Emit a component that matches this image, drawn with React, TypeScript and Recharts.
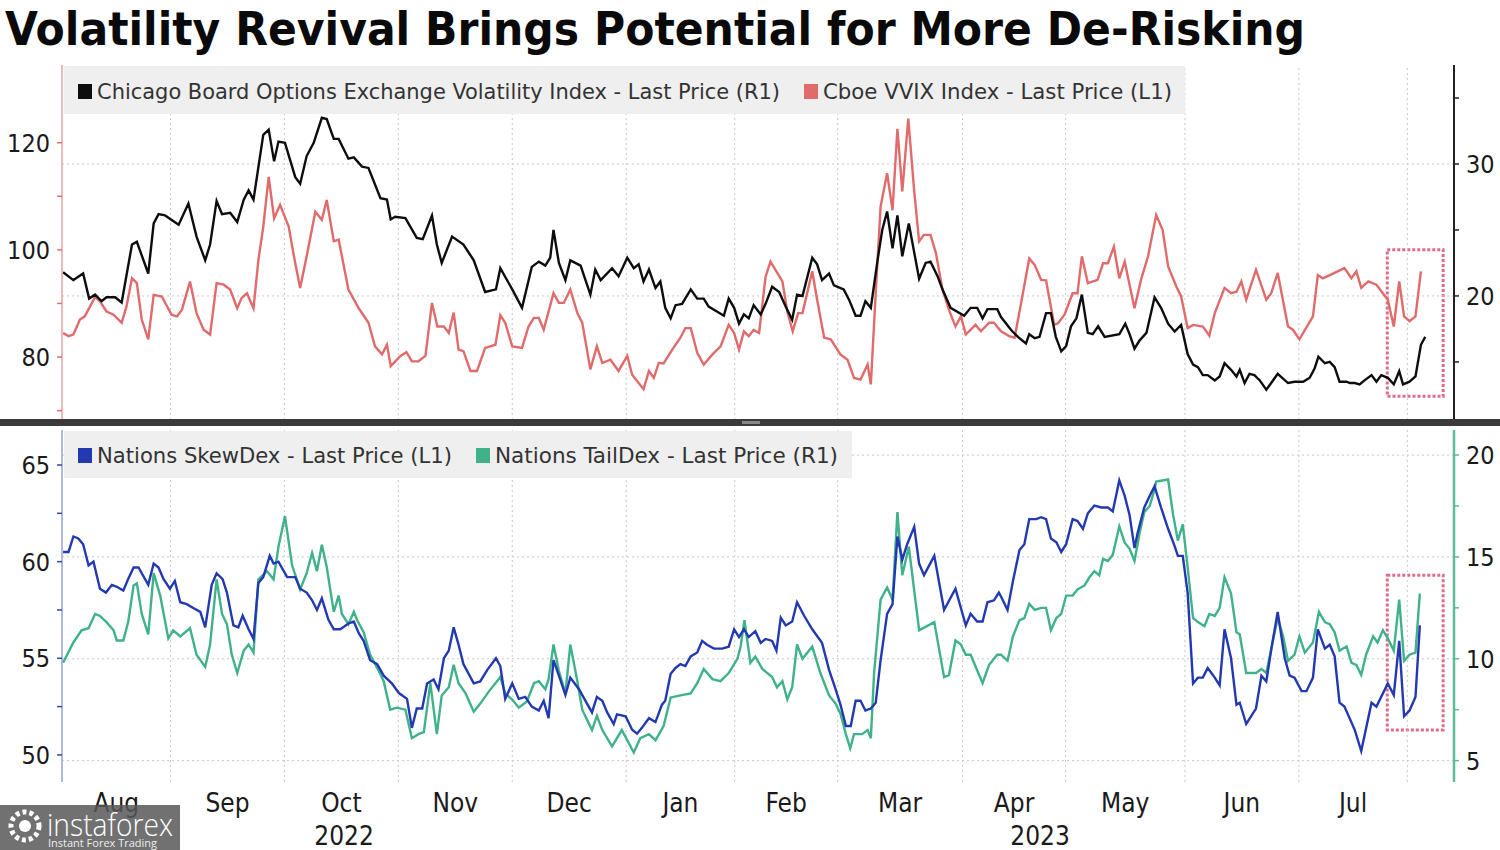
import React from 'react';
import { LineChart, Line, XAxis, YAxis, ReferenceArea, ReferenceLine } from 'recharts';

// x = trading-day index counted from early Aug 2022
const VIX: [number, number][] = [
  [0.2, 21.8], [2.1, 21.2], [3.9, 21.7], [5.0, 19.8], [6.1, 20.1], [7.3, 19.6], [8.2, 19.9], [9.8, 19.9],
  [11.0, 19.5], [12.9, 23.9], [13.8, 24.1], [15.9, 21.7], [16.9, 25.5], [17.8, 26.2], [19.0, 26.1], [21.5, 25.4],
  [23.3, 27.0], [24.8, 24.5], [26.4, 22.7], [27.3, 23.9], [28.5, 27.2], [29.5, 26.2], [31.0, 26.3], [32.3, 25.6],
  [33.5, 27.3], [34.4, 28.0], [35.3, 27.3], [37.1, 32.2], [38.1, 32.6], [39.1, 30.2], [39.9, 31.7], [41.1, 31.6],
  [43.0, 29.0], [43.9, 28.5], [45.1, 30.6], [46.4, 31.6], [47.9, 33.5], [48.8, 33.4], [50.1, 31.9], [51.0, 31.9],
  [52.8, 30.4], [53.8, 30.5], [55.3, 29.8], [56.5, 29.7], [58.7, 27.4], [59.9, 27.3], [60.6, 25.8], [61.4, 26.0],
  [63.3, 25.9], [65.4, 24.4], [66.5, 24.3], [68.2, 26.1], [69.1, 23.9], [70.0, 22.5], [71.9, 24.5], [74.0, 23.9],
  [75.9, 22.7], [78.0, 20.3], [80.0, 20.5], [80.8, 22.1], [83.0, 20.5], [84.8, 19.1], [86.6, 22.2], [87.9, 22.6],
  [89.1, 22.3], [90.0, 22.9], [90.6, 25.0], [91.6, 22.5], [92.8, 21.2], [93.7, 22.7], [95.6, 22.3], [97.4, 20.1],
  [98.3, 22.0], [99.3, 21.2], [101.4, 22.1], [102.6, 21.5], [104.2, 22.9], [105.4, 22.1], [106.3, 22.4], [107.2, 21.1],
  [108.2, 22.0], [109.4, 20.6], [110.3, 21.1], [111.2, 19.1], [112.2, 18.3], [113.1, 19.3], [114.3, 19.4], [115.9, 20.5],
  [117.1, 19.8], [118.3, 19.8], [119.2, 19.2], [120.8, 18.8], [122.0, 18.5], [122.9, 19.8], [123.9, 19.1], [124.8, 17.9],
  [125.7, 18.6], [126.6, 18.3], [127.5, 19.3], [128.8, 18.6], [129.7, 19.4], [130.9, 20.7], [132.2, 20.3], [133.4, 19.2],
  [134.6, 18.2], [135.5, 20.1], [136.5, 20.0], [138.3, 22.9], [139.2, 22.4], [140.1, 21.2], [141.4, 21.7], [142.3, 20.8],
  [144.1, 20.5], [145.1, 19.7], [146.3, 18.5], [147.2, 18.5], [148.1, 19.6], [149.1, 19.1], [150.3, 22.6], [151.2, 25.0],
  [152.1, 26.4], [153.1, 23.6], [154.0, 26.1], [154.9, 23.0], [156.1, 25.5], [158.0, 21.3], [159.2, 22.5], [160.1, 22.6],
  [161.4, 21.5], [162.3, 20.5], [163.8, 19.1], [166.3, 18.5], [167.5, 19.1], [168.7, 19.1], [169.7, 18.3], [170.6, 19.0],
  [172.4, 19.0], [173.1, 18.4], [175.0, 17.4], [176.2, 16.9], [177.7, 16.4], [178.3, 17.1], [179.3, 16.8], [180.2, 16.9],
  [181.4, 18.7], [182.3, 18.7], [183.2, 16.9], [184.2, 15.8], [185.1, 16.2], [186.0, 17.7], [187.0, 18.3], [188.0, 20.1],
  [189.1, 17.2], [190.0, 17.1], [191.0, 17.7], [192.2, 16.9], [194.9, 17.1], [196.0, 17.9], [196.8, 17.1], [197.7, 16.0],
  [198.6, 16.6], [199.9, 17.2], [201.4, 19.9], [202.6, 19.1], [203.9, 17.9], [205.1, 17.3], [206.3, 17.8], [207.5, 15.6],
  [208.5, 14.8], [209.4, 14.6], [210.3, 14.0], [211.2, 14.0], [212.5, 13.6], [213.4, 13.9], [214.3, 14.9], [215.5, 14.4],
  [216.5, 13.9], [217.1, 14.4], [218.0, 13.4], [218.9, 14.1], [219.8, 14.0], [220.8, 13.6], [222.0, 12.9], [222.9, 13.4],
  [224.1, 14.1], [226.0, 13.4], [227.2, 13.5], [228.8, 13.5], [230.0, 13.8], [230.9, 14.5], [231.6, 15.4], [232.8, 14.9],
  [233.7, 15.0], [234.6, 14.6], [235.5, 13.5], [236.8, 13.5], [237.4, 13.4], [238.3, 13.4], [239.2, 13.3], [240.1, 13.6],
  [241.4, 14.0], [242.3, 13.5], [243.2, 14.0], [244.4, 13.8], [245.5, 13.3], [246.5, 14.3], [247.2, 13.3], [248.4, 13.5],
  [249.5, 13.9], [250.5, 16.3], [251.3, 16.9],
];

const VVIX: [number, number][] = [
  [0.2, 84.5], [1.2, 83.9], [2.1, 84.2], [3.3, 87.0], [4.2, 87.6], [5.2, 89.5], [6.1, 91.2], [7.0, 90.4],
  [8.2, 88.5], [9.5, 87.9], [11.0, 86.4], [11.9, 89.5], [12.9, 94.7], [13.8, 93.8], [14.7, 87.0], [15.9, 83.3],
  [16.9, 91.6], [18.4, 91.3], [20.2, 87.9], [21.2, 87.6], [22.1, 88.8], [23.6, 94.1], [24.8, 88.2], [26.1, 85.1],
  [27.3, 84.2], [28.5, 93.8], [29.8, 93.5], [31.0, 92.6], [32.3, 89.1], [33.1, 91.0], [34.1, 91.9], [35.3, 89.1],
  [36.2, 98.1], [37.1, 104.3], [38.1, 113.6], [39.1, 105.9], [40.2, 108.4], [41.8, 104.3], [42.7, 99.1], [43.9, 92.9],
  [45.1, 98.8], [46.7, 107.1], [47.9, 105.6], [48.8, 109.3], [50.1, 101.6], [51.0, 101.9], [52.8, 92.6], [54.7, 89.1],
  [56.5, 86.4], [57.7, 82.0], [59.0, 80.5], [59.9, 82.3], [60.6, 78.3], [62.4, 80.2], [63.5, 80.9], [64.5, 79.2],
  [65.7, 79.2], [67.0, 80.2], [68.2, 90.1], [69.2, 85.7], [70.4, 85.7], [71.3, 84.5], [72.2, 88.3], [73.1, 81.4],
  [74.0, 81.1], [75.3, 77.4], [76.5, 77.4], [78.0, 81.7], [79.9, 82.3], [80.8, 87.8], [81.7, 86.4], [83.0, 82.0],
  [84.8, 81.7], [86.0, 85.7], [87.0, 87.3], [87.9, 87.3], [88.8, 85.1], [90.6, 91.9], [91.6, 90.1], [92.5, 90.1],
  [93.7, 92.6], [95.0, 88.2], [95.9, 86.4], [97.4, 77.7], [98.6, 82.0], [99.6, 78.9], [101.1, 79.5], [102.6, 77.4],
  [104.2, 80.2], [105.1, 76.7], [107.2, 74.0], [108.2, 77.4], [109.1, 76.1], [110.0, 78.9], [110.9, 78.8], [112.5, 81.4],
  [114.0, 83.6], [114.9, 85.4], [115.9, 85.4], [117.1, 80.8], [118.3, 78.6], [119.9, 80.5], [121.4, 82.0], [122.9, 86.0],
  [123.9, 84.5], [124.8, 81.4], [125.7, 84.8], [126.6, 83.9], [127.5, 85.1], [128.5, 84.5], [129.7, 95.0], [130.6, 97.8],
  [132.8, 94.1], [133.7, 88.5], [134.7, 84.8], [135.7, 88.2], [136.5, 88.2], [138.3, 96.0], [139.2, 90.7], [140.5, 83.6],
  [141.7, 83.3], [143.5, 80.5], [144.8, 79.5], [146.0, 76.1], [147.2, 75.8], [148.5, 78.6], [149.1, 74.9], [150.0, 91.9],
  [150.9, 108.1], [152.1, 114.3], [153.1, 107.4], [154.0, 122.6], [154.9, 110.9], [156.0, 124.5], [157.1, 110.9], [158.0, 101.6],
  [158.9, 102.8], [160.1, 102.8], [161.1, 99.4], [162.3, 92.6], [163.5, 88.8], [164.7, 85.7], [165.7, 87.6], [166.6, 84.2],
  [168.4, 86.0], [169.4, 84.8], [170.9, 86.4], [171.8, 86.4], [173.1, 84.8], [174.6, 83.9], [175.6, 83.6], [176.8, 90.1],
  [178.3, 98.4], [179.3, 97.2], [180.5, 94.4], [181.4, 94.3], [182.9, 86.0], [183.6, 86.3], [184.8, 87.9], [186.3, 91.9],
  [187.2, 91.9], [188.0, 98.8], [189.1, 93.8], [190.9, 94.4], [191.9, 97.5], [192.8, 97.5], [193.9, 100.6], [194.9, 94.7],
  [195.9, 97.8], [197.7, 89.1], [198.9, 94.4], [200.2, 98.8], [201.7, 106.5], [202.9, 103.7], [203.9, 96.9], [205.4, 93.2],
  [206.3, 91.3], [207.5, 85.4], [208.5, 86.0], [210.3, 85.7], [211.5, 84.0], [212.5, 88.2], [214.3, 92.9], [215.5, 91.9],
  [216.5, 92.2], [217.4, 94.1], [218.3, 90.7], [220.1, 96.3], [222.0, 90.7], [222.9, 91.9], [224.1, 95.7], [226.0, 85.7],
  [226.9, 85.1], [228.1, 83.3], [230.6, 87.6], [231.5, 95.3], [232.4, 94.7], [233.7, 95.3], [236.4, 96.6], [237.7, 94.7],
  [238.6, 96.0], [239.5, 92.9], [240.8, 94.1], [242.3, 93.5], [244.4, 90.7], [245.5, 85.7], [246.5, 94.1], [247.4, 87.6],
  [248.4, 86.7], [249.5, 87.6], [250.5, 96.0],
];

const SKEW: [number, number][] = [
  [0.2, 60.5], [1.2, 60.5], [2.1, 61.3], [3.0, 61.2], [3.9, 60.9], [4.9, 59.8], [5.8, 60.0], [7.0, 58.6],
  [8.1, 58.4], [9.2, 58.8], [10.1, 58.7], [11.3, 58.5], [12.2, 59.1], [13.2, 59.7], [14.1, 59.7], [15.3, 59.1],
  [15.9, 58.8], [16.9, 59.9], [17.8, 59.7], [18.7, 59.1], [19.9, 58.6], [20.8, 59.0], [21.8, 57.9], [23.0, 57.8],
  [24.2, 57.6], [25.5, 57.4], [26.4, 56.6], [27.6, 58.8], [28.5, 59.4], [29.6, 59.1], [30.4, 58.4], [31.6, 56.7],
  [32.5, 56.6], [33.3, 57.2], [34.4, 56.5], [35.3, 56.0], [36.2, 58.9], [37.1, 59.2], [38.3, 60.3], [39.0, 59.9],
  [39.9, 60.0], [41.5, 59.2], [43.0, 59.2], [43.9, 58.6], [45.1, 58.4], [46.1, 58.0], [47.0, 57.5], [47.9, 58.1],
  [49.1, 57.0], [50.1, 56.5], [51.3, 56.5], [52.8, 56.8], [53.8, 56.9], [54.7, 56.3], [55.6, 55.9], [56.8, 54.9],
  [58.1, 54.7], [59.3, 54.1], [60.8, 53.7], [62.1, 53.2], [63.6, 52.9], [64.5, 51.4], [65.4, 52.4], [66.4, 52.4],
  [67.3, 53.7], [68.5, 53.9], [69.4, 53.4], [70.4, 55.0], [71.3, 55.4], [72.2, 56.6], [73.1, 55.7], [74.0, 54.7],
  [75.9, 53.7], [77.1, 53.8], [78.4, 54.4], [80.0, 55.0], [80.8, 54.6], [81.7, 52.9], [83.0, 53.7], [84.2, 52.9],
  [85.4, 53.0], [86.6, 52.5], [87.9, 52.3], [88.8, 52.8], [89.7, 51.9], [90.6, 54.9], [91.6, 54.1], [92.8, 53.1],
  [93.7, 54.0], [95.3, 53.4], [96.5, 52.8], [97.7, 52.2], [98.6, 53.0], [99.6, 52.8], [100.5, 52.2], [101.7, 51.6],
  [102.3, 52.1], [103.9, 52.0], [105.1, 51.3], [106.0, 51.1], [106.9, 51.4], [108.2, 51.9], [109.4, 51.7], [110.6, 52.6],
  [111.2, 52.8], [112.2, 54.2], [113.1, 54.5], [114.0, 54.7], [114.9, 54.6], [115.9, 55.1], [117.1, 55.3], [118.0, 55.9],
  [118.9, 55.7], [120.2, 55.5], [121.7, 55.5], [122.9, 55.6], [123.9, 56.5], [124.8, 56.1], [125.7, 56.5], [126.6, 56.1],
  [127.8, 56.4], [128.8, 55.8], [129.7, 56.0], [130.9, 55.9], [131.7, 55.4], [132.5, 57.1], [133.4, 56.7], [134.6, 56.9],
  [135.5, 57.9], [136.8, 57.2], [138.3, 56.5], [140.1, 55.8], [141.4, 54.4], [142.6, 53.4], [143.5, 52.6], [144.5, 51.5],
  [145.4, 51.5], [146.3, 52.8], [147.2, 52.8], [148.1, 52.3], [149.1, 52.4], [150.0, 52.7], [150.9, 54.9], [152.1, 57.3],
  [153.1, 57.8], [154.0, 61.3], [154.9, 60.1], [155.8, 60.9], [157.1, 61.8], [158.0, 59.9], [158.9, 59.3], [160.8, 60.3],
  [162.6, 57.5], [164.7, 58.6], [166.6, 56.7], [167.5, 57.3], [168.7, 56.9], [169.7, 56.9], [170.6, 57.9], [171.8, 58.0],
  [172.7, 58.4], [173.1, 58.2], [174.3, 57.5], [175.3, 59.0], [176.5, 60.6], [177.4, 60.9], [178.3, 62.2], [179.6, 62.2],
  [180.5, 62.3], [181.4, 62.2], [182.3, 61.2], [183.3, 61.0], [184.2, 60.5], [185.1, 60.9], [186.3, 62.2], [187.2, 62.1],
  [188.2, 61.7], [189.1, 62.5], [190.3, 62.9], [191.6, 62.8], [192.8, 62.8], [193.7, 62.6], [194.9, 64.2], [195.9, 63.4],
  [196.8, 62.4], [197.7, 60.7], [198.3, 61.5], [199.5, 62.8], [200.5, 63.4], [201.4, 63.9], [202.6, 62.8], [203.9, 61.7],
  [205.1, 60.8], [205.7, 60.3], [206.6, 60.3], [207.5, 58.4], [208.5, 53.7], [209.4, 54.0], [210.3, 54.0], [211.2, 54.5],
  [212.5, 54.0], [213.4, 53.6], [214.3, 56.5], [215.5, 55.0], [216.5, 52.6], [217.1, 52.7], [218.3, 51.6], [220.1, 52.4],
  [221.1, 54.1], [222.0, 53.8], [223.0, 55.6], [224.1, 57.4], [225.4, 55.0], [226.3, 54.1], [227.2, 54.0], [228.5, 53.3],
  [229.4, 53.3], [230.6, 54.0], [231.5, 56.5], [232.8, 55.5], [233.7, 55.7], [234.6, 55.1], [235.5, 52.7], [236.4, 52.5],
  [238.3, 51.3], [239.5, 50.2], [241.4, 52.7], [242.3, 52.5], [244.4, 53.7], [245.5, 53.1], [246.5, 55.9], [247.4, 52.0],
  [248.4, 52.3], [249.5, 53.0], [250.3, 56.7],
];

const TAIL: [number, number][] = [
  [0.2, 9.8], [2.1, 10.8], [3.6, 11.4], [4.9, 11.5], [6.1, 12.2], [7.0, 12.1], [8.2, 11.8], [9.5, 11.4],
  [10.1, 10.9], [11.3, 10.9], [12.2, 11.8], [13.2, 13.6], [13.8, 13.7], [14.7, 12.2], [15.9, 11.2], [16.9, 14.2],
  [18.1, 13.1], [19.6, 11.0], [20.5, 11.4], [21.8, 11.1], [23.6, 11.5], [24.8, 10.2], [26.4, 9.6], [27.3, 10.7],
  [28.5, 13.9], [29.5, 12.2], [30.4, 11.7], [31.3, 10.2], [32.3, 9.3], [33.5, 10.4], [34.4, 10.7], [35.3, 10.3],
  [36.2, 13.9], [37.8, 14.3], [39.0, 13.9], [39.9, 15.5], [41.1, 17.0], [42.4, 14.6], [43.9, 13.4], [45.1, 14.2],
  [46.1, 15.2], [47.0, 14.3], [47.9, 15.6], [48.8, 14.5], [50.1, 12.3], [51.0, 13.1], [51.6, 12.2], [52.8, 11.7],
  [53.8, 12.3], [54.4, 11.9], [55.6, 11.3], [56.8, 10.2], [58.4, 9.4], [59.3, 8.9], [60.5, 7.5], [61.7, 7.6],
  [63.3, 7.5], [64.5, 6.1], [65.7, 6.3], [66.7, 6.4], [67.9, 8.8], [69.1, 6.3], [70.0, 8.2], [71.3, 8.6],
  [72.2, 9.7], [73.1, 8.8], [74.4, 8.3], [75.9, 7.4], [77.1, 7.8], [78.7, 8.4], [80.8, 9.1], [81.7, 8.3],
  [83.0, 8.0], [84.2, 7.6], [85.7, 7.9], [87.0, 8.8], [87.9, 8.9], [89.1, 8.5], [89.7, 9.0], [90.6, 10.7],
  [91.6, 9.4], [92.8, 8.3], [93.7, 10.7], [95.0, 8.9], [95.9, 7.5], [96.8, 7.0], [97.7, 6.5], [98.6, 7.2],
  [99.6, 6.5], [101.4, 5.7], [103.2, 6.5], [105.4, 5.4], [106.6, 6.1], [108.2, 6.3], [109.4, 6.0], [110.9, 6.7],
  [112.2, 8.1], [114.0, 8.2], [115.9, 8.3], [117.1, 8.8], [118.3, 9.5], [119.9, 9.0], [121.4, 8.9], [122.9, 9.3],
  [124.5, 10.0], [125.1, 10.6], [125.8, 11.9], [126.9, 9.8], [127.8, 10.1], [129.1, 9.5], [130.9, 9.1], [131.8, 8.6],
  [132.8, 8.9], [133.7, 8.0], [134.6, 8.6], [135.5, 10.7], [136.5, 10.0], [138.3, 10.6], [139.8, 9.3], [141.4, 8.2],
  [142.6, 7.8], [143.5, 7.3], [144.5, 6.3], [145.3, 5.6], [146.0, 6.3], [147.5, 6.3], [148.5, 6.5], [149.1, 6.1],
  [149.7, 9.3], [150.9, 12.9], [152.1, 13.5], [153.1, 12.9], [154.0, 17.2], [154.9, 14.1], [156.1, 15.5], [158.0, 11.4],
  [160.8, 11.8], [162.6, 9.1], [163.5, 9.2], [164.7, 10.9], [165.7, 10.7], [166.6, 10.2], [167.5, 10.2], [169.7, 8.8],
  [170.9, 9.7], [172.4, 10.2], [173.1, 10.2], [174.3, 9.9], [175.3, 11.1], [176.5, 11.9], [177.4, 12.0], [178.3, 12.7],
  [179.3, 12.4], [180.5, 12.5], [181.4, 12.5], [182.3, 11.4], [183.3, 12.0], [184.2, 12.2], [185.1, 13.1], [186.3, 13.1],
  [187.2, 13.4], [188.5, 13.6], [189.4, 14.0], [190.3, 14.3], [191.2, 14.1], [191.9, 14.9], [192.8, 14.8], [193.7, 15.1],
  [194.9, 16.5], [195.9, 15.7], [196.8, 15.4], [197.7, 14.8], [198.6, 16.1], [199.5, 17.2], [200.5, 17.5], [201.4, 18.3],
  [201.7, 18.7], [203.9, 18.8], [204.8, 17.1], [205.7, 15.8], [206.6, 16.6], [207.5, 14.5], [208.5, 12.0], [209.4, 11.8],
  [210.6, 11.6], [211.5, 12.2], [212.5, 12.1], [213.4, 12.5], [214.3, 14.0], [215.5, 13.2], [216.5, 11.3], [217.1, 11.2],
  [218.3, 9.3], [220.1, 9.3], [221.1, 9.5], [222.0, 9.3], [223.0, 10.6], [224.1, 12.0], [225.1, 11.1], [226.0, 9.9],
  [227.2, 10.2], [228.1, 11.1], [229.1, 10.3], [230.6, 10.8], [231.7, 12.3], [232.8, 11.8], [233.7, 11.7], [234.6, 11.3],
  [235.5, 10.4], [236.8, 10.6], [237.7, 9.8], [238.6, 9.7], [239.5, 9.2], [240.4, 10.2], [241.7, 11.1], [242.5, 10.8],
  [243.5, 11.4], [244.4, 11.0], [245.5, 10.4], [246.5, 12.9], [247.4, 9.9], [248.4, 10.2], [249.5, 10.3], [250.3, 13.2],
];

const MONTHS = ['Aug', 'Sep', 'Oct', 'Nov', 'Dec', 'Jan', 'Feb', 'Mar', 'Apr', 'May', 'Jun', 'Jul'];
// trading-day index where Sep 2022 ... Aug 2023 begin
const MONTH_STARTS = [20, 41, 62, 83, 104, 124, 143, 166, 185, 207, 228, 248];
const YEARS = ['2022', '2023'];
const LAST_DAY = 256.6;

const VVIX_TICKS = [70, 80, 90, 100, 110, 120];
const VVIX_LABELS = [80, 100, 120];
const VIX_TICKS = [15, 20, 25, 30, 35];
const VIX_LABELS = [20, 30];
const SKEW_TICKS = [50, 52.5, 55, 57.5, 60, 62.5, 65];
const SKEW_LABELS = [50, 55, 60, 65];
const TAIL_TICKS = [5, 7.5, 10, 12.5, 15, 17.5, 20];
const TAIL_LABELS = [5, 10, 15, 20];

const FONT = '"DejaVu Sans Condensed", "DejaVu Sans", sans-serif';

const pts = (arr: [number, number][]) => arr.map(([d, v]) => ({ d, v }));
const monthMids = MONTH_STARTS.map((s, i) => ((i === 0 ? 0 : MONTH_STARTS[i - 1]) + s) / 2);
const yearMids = [MONTH_STARTS[4] / 2, (MONTH_STARTS[4] + LAST_DAY) / 2];

const yTick = (labels: number[], anchor: 'start' | 'end') => (props: any) => {
  const { x, y, payload } = props;
  if (!labels.includes(payload.value)) return <g />;
  return (
    <text x={x} y={y} dy={9} textAnchor={anchor} fontSize={25} fill="#1a1a1a" fontFamily={FONT}>
      {payload.value}
    </text>
  );
};

const xTick = (names: string[], ticks: number[], dy: number) => (props: any) => {
  const { x, y, payload } = props;
  const i = ticks.indexOf(payload.value);
  return (
    <text x={x} y={y} dy={dy} textAnchor="middle" fontSize={26} fill="#1a1a1a" fontFamily={FONT}>
      {names[i]}
    </text>
  );
};

const grid = { stroke: '#c9c9c9', strokeDasharray: '2 3' };
const box = { fill: 'none', stroke: '#e06b86', strokeWidth: 3, strokeDasharray: '3 2' };

// dotted grid: verticals at month starts, horizontals at the labelled right-axis values
function gridLines(labels: number[]) {
  return [
    ...MONTH_STARTS.map((d) => <ReferenceLine key={'x' + d} xAxisId="g" yAxisId="R" x={d} {...grid} />),
    ...labels.map((v) => <ReferenceLine key={'y' + v} xAxisId="g" yAxisId="R" y={v} {...grid} />),
  ];
}

function LegendItem({ x, y, color, text, len }: { x: number; y: number; color: string; text: string; len: number }) {
  return (
    <g>
      <rect x={x} y={y - 15} width={14} height={15} fill={color} />
      <text x={x + 19} y={y} fontSize={22} fill="#333" fontFamily={FONT} textLength={len} lengthAdjust="spacingAndGlyphs">
        {text}
      </text>
    </g>
  );
}

export default function App() {
  return (
    <div style={{ position: 'absolute', left: 0, top: 0, width: 1500, height: 850, background: '#fff', overflow: 'hidden' }}>
      <div style={{ position: 'absolute', left: 0, top: 0 }}>
        <LineChart width={1500} height={422} margin={{ top: 65, right: 45, bottom: 2, left: 61 }}>
          <XAxis xAxisId="g" dataKey="d" type="number" domain={[0, LAST_DAY]} ticks={MONTH_STARTS} allowDataOverflow hide height={0} />
          <YAxis
            yAxisId="L" orientation="left" width={1} type="number" domain={[68.25, 134.5]} ticks={VVIX_TICKS}
            allowDataOverflow axisLine={{ stroke: '#e6a3a3', strokeWidth: 1.5 }} tickLine={{ stroke: '#e07070', strokeWidth: 1.5 }}
            tickSize={5} tickMargin={7} tick={yTick(VVIX_LABELS, 'end')}
          />
          <YAxis
            yAxisId="R" orientation="right" width={1} type="number" domain={[10.6, 37.5]} ticks={VIX_TICKS}
            allowDataOverflow axisLine={{ stroke: '#222', strokeWidth: 2 }} tickLine={{ stroke: '#222', strokeWidth: 1.5 }}
            tickSize={5} tickMargin={7} tick={yTick(VIX_LABELS, 'start')}
          />
          {gridLines(VIX_LABELS)}
          <Line xAxisId="g" yAxisId="L" data={pts(VVIX)} dataKey="v" type="linear" stroke="#e16a6a" strokeWidth={2.4} dot={false} isAnimationActive={false} />
          <Line xAxisId="g" yAxisId="R" data={pts(VIX)} dataKey="v" type="linear" stroke="#0d0d0d" strokeWidth={2.4} dot={false} isAnimationActive={false} />
          <ReferenceArea xAxisId="g" yAxisId="R" x1={244.3} x2={254.6} y1={12.4} y2={23.5} {...box} />
        </LineChart>
      </div>

      <div style={{ position: 'absolute', left: 0, top: 425 }}>
        <LineChart width={1500} height={425} margin={{ top: 5, right: 45, bottom: 6, left: 61 }}>
          <XAxis xAxisId="g" dataKey="d" type="number" domain={[0, LAST_DAY]} ticks={MONTH_STARTS} allowDataOverflow hide height={0} />
          <XAxis
            xAxisId="m" dataKey="d" type="number" domain={[0, LAST_DAY]} ticks={monthMids} allowDataOverflow
            height={32} axisLine={false} tickLine={false} interval={0} tick={xTick(MONTHS, monthMids, 22)}
          />
          <XAxis
            xAxisId="y" dataKey="d" type="number" domain={[0, LAST_DAY]} ticks={yearMids} allowDataOverflow
            height={30} axisLine={false} tickLine={false} interval={0} tick={xTick(YEARS, yearMids, 23)}
          />
          <YAxis
            yAxisId="L" orientation="left" width={1} type="number" domain={[48.6, 66.81]} ticks={SKEW_TICKS}
            allowDataOverflow axisLine={{ stroke: '#9aa3d6', strokeWidth: 1.5 }} tickLine={{ stroke: '#3347b5', strokeWidth: 1.5 }}
            tickSize={5} tickMargin={7} tick={yTick(SKEW_LABELS, 'end')}
          />
          <YAxis
            yAxisId="R" orientation="right" width={1} type="number" domain={[3.95, 21.23]} ticks={TAIL_TICKS}
            allowDataOverflow axisLine={{ stroke: '#5cbc98', strokeWidth: 2.5 }} tickLine={{ stroke: '#5cbc98', strokeWidth: 1.5 }}
            tickSize={5} tickMargin={7} tick={yTick(TAIL_LABELS, 'start')}
          />
          {gridLines(TAIL_LABELS)}
          <Line xAxisId="g" yAxisId="R" data={pts(TAIL)} dataKey="v" type="linear" stroke="#3fb28a" strokeWidth={2.4} dot={false} isAnimationActive={false} />
          <Line xAxisId="g" yAxisId="L" data={pts(SKEW)} dataKey="v" type="linear" stroke="#2239b2" strokeWidth={2.4} dot={false} isAnimationActive={false} />
          <ReferenceArea xAxisId="g" yAxisId="R" x1={244.3} x2={254.6} y1={6.5} y2={14.1} {...box} />
        </LineChart>
      </div>

      <svg width={1500} height={850} style={{ position: 'absolute', left: 0, top: 0, pointerEvents: 'none' }}>
        <text x={5} y={45} fontSize={47} fontWeight="bold" fill="#0a0a0a" fontFamily='"DejaVu Sans", sans-serif' textLength={1300} lengthAdjust="spacingAndGlyphs">
          Volatility Revival Brings Potential for More De-Risking
        </text>

        <rect x={64} y={66} width={1121} height={48} fill="#efefef" />
        <LegendItem x={78} y={99} color="#0d0d0d" text="Chicago Board Options Exchange Volatility Index - Last Price (R1)" len={683} />
        <LegendItem x={804} y={99} color="#e16a6a" text="Cboe VVIX Index - Last Price (L1)" len={349} />

        <rect x={64} y={431} width={788} height={47} fill="#efefef" />
        <LegendItem x={78} y={463} color="#2239b2" text="Nations SkewDex - Last Price (L1)" len={355} />
        <LegendItem x={476} y={463} color="#3fb28a" text="Nations TailDex - Last Price (R1)" len={343} />

        <rect x={0} y={419} width={1500} height={7} fill="#3b3b3b" />
        <rect x={742} y={421} width={18} height={3} fill="#888" />

        <rect x={0} y={805} width={180} height={45} fill="rgba(88,88,88,0.85)" />
        <circle cx={25} cy={826} r={14} fill="none" stroke="#fff" strokeWidth={5} strokeDasharray="4 3" />
        <circle cx={25} cy={826} r={6} fill="#fff" />
        <text x={47} y={836} fontSize={32} fill="#fff" fontFamily='"Open Sans", sans-serif' fontWeight={300} textLength={126} lengthAdjust="spacingAndGlyphs">
          instaforex
        </text>
        <text x={48} y={847} fontSize={11} fill="#eee" fontFamily='"Open Sans", sans-serif'>
          Instant Forex Trading
        </text>
      </svg>
    </div>
  );
}
